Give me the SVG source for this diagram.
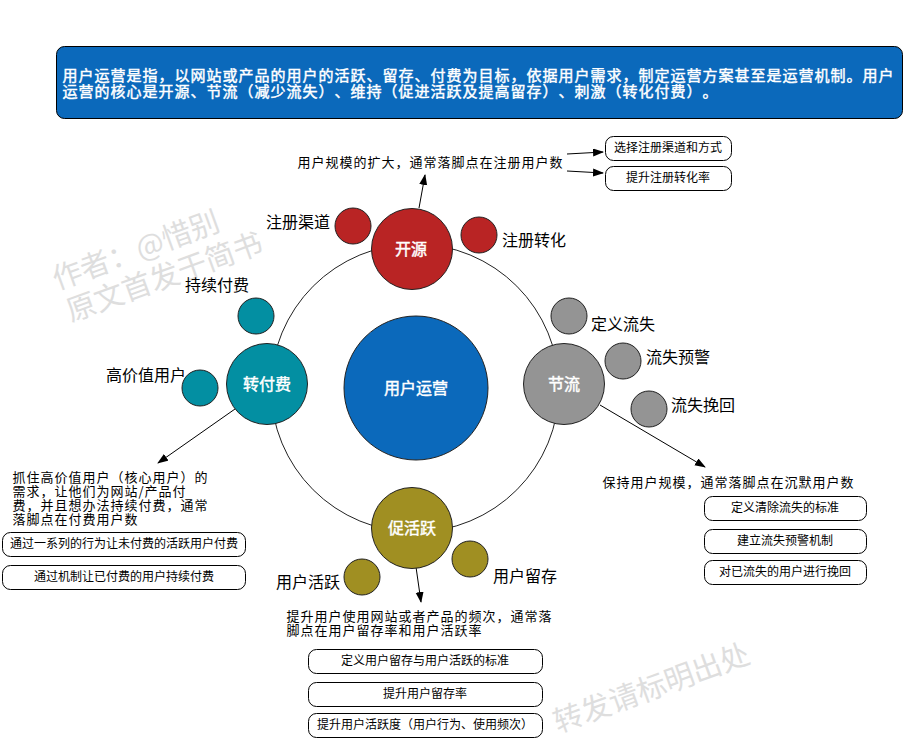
<svg xmlns="http://www.w3.org/2000/svg" width="904" height="742" viewBox="0 0 904 742">
<style>
text{font-family:"Noto Sans CJK SC","Liberation Sans",sans-serif;fill:#000;text-spacing-trim:space-all;font-feature-settings:"chws" 0,"palt" 0}
.c{stroke:#222;stroke-width:1}
.hub{font-size:16px;fill:#fff;stroke:#fff;stroke-width:.45px;text-anchor:middle}
.lbl{font-size:16px}
.note{font-size:13px;letter-spacing:1px}
.box{fill:#fff;stroke:#000;stroke-width:1}
.bt{font-size:12px;text-anchor:middle}
.wm{font-size:29.5px;fill:#dedede}
.head{font-size:15px;letter-spacing:1px;fill:#fff;stroke:#fff;stroke-width:.45px}
.red{fill:#b92424}.teal{fill:#038fa2}.gray{fill:#949494}.olive{fill:#a08f22}.blue{fill:#0b69bb}
.conn{fill:none;stroke:#000;stroke-width:1;marker-end:url(#a)}
</style>
<defs>
<marker id="a" markerUnits="userSpaceOnUse" markerWidth="12" markerHeight="10" refX="10" refY="4" orient="auto"><path d="M0 0L11 4L0 8Z" fill="#000"/></marker>
</defs>
<rect width="904" height="742" fill="#fff"/>
<g id="watermarks">
<text class="wm" transform="translate(57 290) rotate(-20)">作者：@惜别</text>
<text class="wm" transform="translate(71 322) rotate(-20)">原文首发于简书</text>
<text class="wm" transform="translate(558 733) rotate(-20)">转发请标明出处</text>
</g>
<g id="banner">
<rect x="56.5" y="46.5" width="846" height="72" rx="8" class="blue" stroke="#000"/>
<text class="head"><tspan x="62.5" y="81">用户运营是指，以网站或产品的用户的活跃、留存、付费为目标，依据用户需求，制定运营方案甚至是运营机制。用户</tspan><tspan x="62.5" y="97">运营的核心是开源、节流（减少流失）、维持（促进活跃及提高留存）、刺激（转化付费）。</tspan></text>
</g>
<circle id="ring" cx="415" cy="388" r="144" fill="none" stroke="#222"/>
<g id="connectors">
<path class="conn" d="M419 208L425 175"/>
<path class="conn" d="M567 154L603 152"/>
<path class="conn" d="M567 171L603 173"/>
<path class="conn" d="M235 409L158 463"/>
<path class="conn" d="M600 405L705 467"/>
<path class="conn" d="M416 567L421 602"/>
</g>
<g id="n-center"><circle cx="416" cy="388" r="72" class="c blue"/><text class="hub" x="416" y="394">用户运营</text></g>
<g id="n-kaiyuan"><circle cx="412" cy="249" r="40.5" class="c red"/><text class="hub" x="411" y="255">开源</text></g>
<g id="n-jieliu"><circle cx="564" cy="384" r="40.5" class="c gray"/><text class="hub" x="564" y="390">节流</text></g>
<g id="n-cuohuoyue"><circle cx="412" cy="528" r="40.5" class="c olive"/><text class="hub" x="412" y="534">促活跃</text></g>
<g id="n-zhuanfufei"><circle cx="267" cy="384" r="40.5" class="c teal"/><text class="hub" x="267" y="390">转付费</text></g>
<g id="n-qudao"><circle cx="353" cy="226" r="18" class="c red"/><text class="lbl" x="266" y="228">注册渠道</text></g>
<g id="n-zhuanhua"><circle cx="479" cy="235" r="18" class="c red"/><text class="lbl" x="502" y="246">注册转化</text></g>
<g id="n-chixu"><circle cx="256" cy="316" r="18" class="c teal"/><text class="lbl" x="185" y="291">持续付费</text></g>
<g id="n-gaojiazhi"><circle cx="200" cy="388" r="18" class="c teal"/><text class="lbl" x="106" y="381">高价值用户</text></g>
<g id="n-dingyi"><circle cx="569" cy="316" r="18" class="c gray"/><text class="lbl" x="591" y="330">定义流失</text></g>
<g id="n-yujing"><circle cx="623" cy="361" r="18" class="c gray"/><text class="lbl" x="646" y="363">流失预警</text></g>
<g id="n-wanhui"><circle cx="649" cy="409" r="18" class="c gray"/><text class="lbl" x="671" y="411">流失挽回</text></g>
<g id="n-huoyue"><circle cx="362" cy="577" r="18" class="c olive"/><text class="lbl" x="276" y="588">用户活跃</text></g>
<g id="n-liucun"><circle cx="470" cy="559" r="18" class="c olive"/><text class="lbl" x="493" y="582">用户留存</text></g>
<g id="note-top"><text class="note" x="297.5" y="167">用户规模的扩大，通常落脚点在注册用户数</text></g>
<g id="note-left"><text class="note"><tspan x="12.5" y="482">抓住高价值用户（核心用户）的</tspan><tspan x="12.5" y="496">需求，让他们为网站/产品付</tspan><tspan x="12.5" y="510">费，并且想办法持续付费，通常</tspan><tspan x="12.5" y="524">落脚点在付费用户数</tspan></text></g>
<g id="note-right"><text class="note" x="602.5" y="487">保持用户规模，通常落脚点在沉默用户数</text></g>
<g id="note-bottom"><text class="note"><tspan x="286.5" y="621">提升用户使用网站或者产品的频次，通常落</tspan><tspan x="286.5" y="635">脚点在用户留存率和用户活跃率</tspan></text></g>
<g id="b1"><rect class="box" x="605.5" y="136.5" width="126" height="24" rx="8"/><text class="bt" x="668" y="152">选择注册渠道和方式</text></g>
<g id="b2"><rect class="box" x="605.5" y="166.5" width="126" height="24" rx="8"/><text class="bt" x="668" y="182">提升注册转化率</text></g>
<g id="b3"><rect class="box" x="2.5" y="532.5" width="243" height="24" rx="8"/><text class="bt" x="124" y="548">通过一系列的行为让未付费的活跃用户付费</text></g>
<g id="b4"><rect class="box" x="2.5" y="565.5" width="243" height="24" rx="8"/><text class="bt" x="124" y="581">通过机制让已付费的用户持续付费</text></g>
<g id="b5"><rect class="box" x="308.5" y="649.5" width="234" height="24" rx="8"/><text class="bt" x="425" y="665">定义用户留存与用户活跃的标准</text></g>
<g id="b6"><rect class="box" x="308.5" y="682.5" width="234" height="24" rx="8"/><text class="bt" x="425" y="698">提升用户留存率</text></g>
<g id="b7"><rect class="box" x="308.5" y="713.5" width="234" height="24" rx="8"/><text class="bt" x="425" y="729">提升用户活跃度（用户行为、使用频次）</text></g>
<g id="b8"><rect class="box" x="704.5" y="496.5" width="162" height="24" rx="8"/><text class="bt" x="785" y="512">定义清除流失的标准</text></g>
<g id="b9"><rect class="box" x="704.5" y="529.5" width="162" height="24" rx="8"/><text class="bt" x="785" y="545">建立流失预警机制</text></g>
<g id="b10"><rect class="box" x="704.5" y="560.5" width="162" height="24" rx="8"/><text class="bt" x="785" y="576">对已流失的用户进行挽回</text></g>
</svg>
